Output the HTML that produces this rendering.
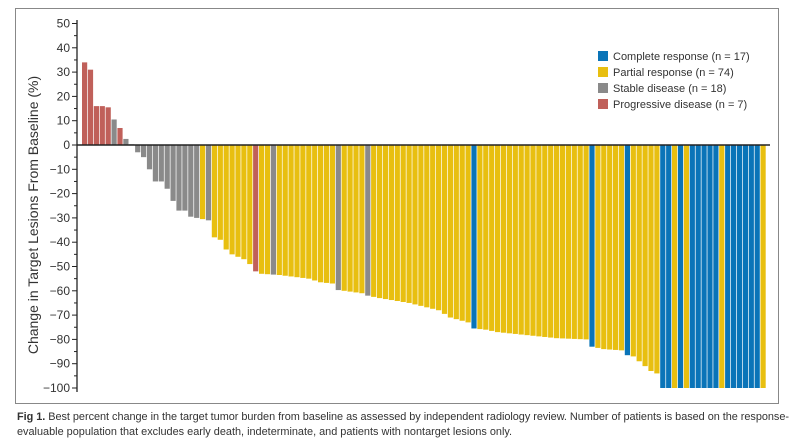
<!DOCTYPE html>
<html><head><meta charset="utf-8"><style>
html,body{margin:0;padding:0;background:#fff;}
svg{display:block;font-family:"Liberation Sans",sans-serif;}
</style></head><body>
<svg id="s" width="800" height="442" xmlns="http://www.w3.org/2000/svg">
<rect x="15.5" y="8.5" width="763" height="395" fill="#fff" stroke="#888" stroke-width="1"/>
<g id="bars"></g>
<line x1="77" y1="145" x2="770" y2="145" stroke="#222" stroke-width="1.5"/>
<line x1="77" y1="20" x2="77" y2="392" stroke="#222" stroke-width="1.3"/>
<g id="ticks" fill="#333" font-size="12" text-anchor="end"></g>
<text transform="translate(38,215) rotate(-90)" text-anchor="middle" font-size="14" fill="#333">Change in Target Lesions From Baseline (%)</text>
<g font-size="11" fill="#333">
<rect x="598" y="51" width="10" height="10" fill="#0a74b8"/><text x="613" y="60">Complete response (n = 17)</text>
<rect x="598" y="67" width="10" height="10" fill="#e8bf10"/><text x="613" y="76">Partial response (n = 74)</text>
<rect x="598" y="83" width="10" height="10" fill="#8a8a8a"/><text x="613" y="92">Stable disease (n = 18)</text>
<rect x="598" y="99" width="10" height="10" fill="#c0605a"/><text x="613" y="108">Progressive disease (n = 7)</text>
</g>
<text x="17" y="420" font-size="10.9" fill="#333" textLength="772" lengthAdjust="spacing"><tspan font-weight="bold">Fig 1.</tspan> Best percent change in the target tumor burden from baseline as assessed by independent radiology review. Number of patients is based on the response-</text>
<text x="17" y="435" font-size="10.9" fill="#333">evaluable population that excludes early death, indeterminate, and patients with nontarget lesions only.</text>
</svg>
<script>
var NS="http://www.w3.org/2000/svg";
var n=116,vals=[],cols=[];
var first=[34,31,16,16,15.5,10.5,7,2.5,0.3,-3,-5,-10,-15,-15,-18,-23,-27,-27,-29.5,-30,-30.5,-31];
var anchors=[[22,-38],[23,-39],[24,-43],[25,-45],[26,-46],[27,-47],[28,-49],[29,-52],[30,-53],[33,-53.5],[38,-55],[40,-56.5],[42,-57],[43,-59.7],[44,-60],[47,-61],[48,-62],[50,-63],[55,-65],[60,-68],[62,-71],[65,-73],[66,-75.5],[68,-76],[70,-77],[74,-78],[80,-79.5],[85,-80],[86,-83],[88,-84],[91,-84.5],[92,-86.5],[93,-87],[94,-89],[95,-91],[96,-93],[97,-94],[98,-100],[115,-100]];
for(var i=0;i<n;i++){
 if(i<22)vals.push(first[i]);
 else{for(var k=0;k<anchors.length-1;k++){var a=anchors[k],b=anchors[k+1];if(i>=a[0]&&i<=b[0]){vals.push(a[1]+(b[1]-a[1])*(i-a[0])/(b[0]-a[0]));break;}}}
 cols.push("#e8bf10");
}
var R="#c0605a",G="#8a8a8a",B="#0a74b8";
[0,1,2,3,4,6,29].forEach(function(i){cols[i]=R;});
[5,7,8,9,10,11,12,13,14,15,16,17,18,19,21,32,43,48].forEach(function(i){cols[i]=G;});
[66,86,92].forEach(function(i){cols[i]=B;});
var tail="BBYBYBBBBBYBBBBBBY";
for(var j=0;j<18;j++){cols[98+j]=tail[j]=="B"?B:"#e8bf10";}
var g=document.getElementById("bars"),x0=82,w=5.9,y0=145,s=2.43;
for(var i=0;i<n;i++){
 var v=vals[i],h=Math.abs(v)*s,r=document.createElementNS(NS,"rect");
 r.setAttribute("x",x0+i*w);r.setAttribute("width",w-0.7);
 r.setAttribute("y",v>0?y0-h:y0);r.setAttribute("height",h);
 r.setAttribute("fill",cols[i]);g.appendChild(r);
}
var t=document.getElementById("ticks");
for(var v=50;v>=-100;v-=5){
 var y=y0-v*s,l=document.createElementNS(NS,"line");
 var big=v%10==0;
 l.setAttribute("x1",big?72:74);l.setAttribute("x2",77);l.setAttribute("y1",y);l.setAttribute("y2",y);
 l.setAttribute("stroke","#222");l.setAttribute("stroke-width",1);t.appendChild(l);
 if(big){var tx=document.createElementNS(NS,"text");tx.setAttribute("x",70);tx.setAttribute("y",y+4);
 tx.textContent=v<0?"\u2212"+(-v):v;t.appendChild(tx);}
}
</script>
</body></html>
